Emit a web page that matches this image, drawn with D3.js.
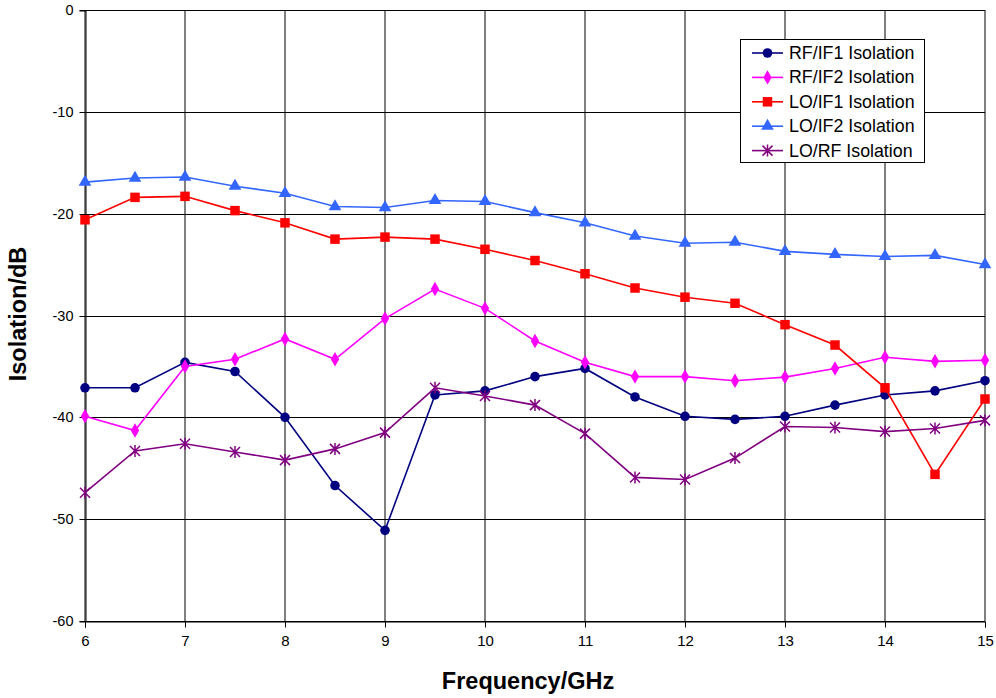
<!DOCTYPE html>
<html><head><meta charset="utf-8">
<script src="https://cdn.jsdelivr.net/npm/d3@7"></script>
<style>body{margin:0;background:#fff}svg{display:block}text{font-family:"Liberation Sans",Arial,sans-serif}</style>
</head><body><svg id="c" width="996" height="698"></svg>
<script>
const freqs = [6,6.5,7,7.5,8,8.5,9,9.5,10,10.5,11,11.5,12,12.5,13,13.5,14,14.5,15];
const rfIf1 = [-37.1,-37.1,-34.6,-35.5,-40.0,-46.7,-51.1,-37.8,-37.4,-36.0,-35.2,-38.0,-39.9,-40.2,-39.9,-38.8,-37.8,-37.4,-36.4];
const rfIf2 = [-39.9,-41.3,-35.0,-34.3,-32.3,-34.3,-30.3,-27.4,-29.3,-32.5,-34.6,-36.0,-36.0,-36.4,-36.05,-35.2,-34.1,-34.5,-34.4];
const loIf1 = [-20.6,-18.4,-18.3,-19.7,-20.9,-22.5,-22.3,-22.5,-23.5,-24.6,-25.9,-27.3,-28.2,-28.8,-30.9,-32.9,-37.1,-45.6,-38.2];
const loIf2 = [-16.9,-16.5,-16.4,-17.3,-18.0,-19.3,-19.4,-18.7,-18.8,-19.9,-20.9,-22.2,-22.9,-22.8,-23.7,-24.0,-24.2,-24.1,-25.0];
const loRf  = [-47.4,-43.3,-42.6,-43.4,-44.2,-43.1,-41.5,-37.1,-37.9,-38.8,-41.6,-45.9,-46.1,-44.0,-40.9,-41.0,-41.4,-41.1,-40.3];
const seriesNames = ["RF/IF1 Isolation","RF/IF2 Isolation","LO/IF1 Isolation","LO/IF2 Isolation","LO/RF Isolation"];
const xTicks = [6,7,8,9,10,11,12,13,14,15];
const yTicks = [0,-10,-20,-30,-40,-50,-60];

const series = [
  {name:seriesNames[0], values:rfIf1, color:"#000080", sym:d3.symbolCircle, size:72},
  {name:seriesNames[1], values:rfIf2, color:"#FF00FF", sym:d3.symbolDiamond, size:60},
  {name:seriesNames[2], values:loIf1, color:"#FF0000", sym:d3.symbolSquare, size:90},
  {name:seriesNames[3], values:loIf2, color:"#3366FF", sym:d3.symbolTriangle, size:70},
  {name:seriesNames[4], values:loRf,  color:"#800080", sym:"star", size:0}
];

const svg = d3.select("#c");
const x = d3.scaleLinear().domain([6,15]).range([85,985]);
const y = d3.scaleLinear().domain([0,-60]).range([10,621]);
const fmt = d => String(d);

// grid
const g = svg.append("g");
g.selectAll(".hg").data(yTicks).enter().append("line")
  .attr("x1",85).attr("x2",985)
  .attr("y1",d=>Math.round(y(d))+0.5).attr("y2",d=>Math.round(y(d))+0.5)
  .attr("stroke","#000").attr("stroke-width",1);
g.selectAll(".vg").data(xTicks).enter().append("line")
  .attr("x1",d=>x(d)).attr("x2",d=>x(d))
  .attr("y1",10).attr("y2",621)
  .attr("stroke","#000").attr("stroke-width",1);

// axes
const yAxis = d3.axisLeft(y).tickValues(yTicks).tickSize(6).tickFormat(fmt);
const ya = svg.append("g").attr("transform","translate(85.5,0.5)").call(yAxis);
ya.select(".domain").attr("stroke","#000");
ya.selectAll("text").attr("font-size",14.5).attr("x",-12).attr("fill","#000").attr("font-family","Liberation Sans, Arial, sans-serif");
ya.selectAll(".tick").attr("transform",d=>`translate(0,${Math.round(y(d))})`);

const xAxis = d3.axisBottom(x).tickValues(xTicks).tickSize(6).tickFormat(fmt);
const xa = svg.append("g").attr("transform","translate(0,621.5)").call(xAxis);
xa.select(".domain").attr("stroke","#000");
xa.selectAll("text").attr("font-size",15).attr("y",14).attr("fill","#000").attr("font-family","Liberation Sans, Arial, sans-serif");

// titles
svg.append("text").attr("x",528).attr("y",689).attr("text-anchor","middle")
  .attr("font-size",23.5).attr("font-weight","bold").text("Frequency/GHz");
svg.append("text").attr("transform","translate(26,314) rotate(-90)").attr("text-anchor","middle")
  .attr("font-size",23.5).attr("font-weight","bold").text("Isolation/dB");

function drawMarker(sel, s, cx, cy) {
  if (s.sym === "star") {
    const r = 5;
    const p = `M${cx-r},${cy-r}L${cx+r},${cy+r}M${cx-r},${cy+r}L${cx+r},${cy-r}M${cx},${cy-r-1}L${cx},${cy+r+1}`;
    sel.append("path").attr("d",p).attr("stroke",s.color).attr("stroke-width",1.5).attr("fill","none");
  } else {
    sel.append("path").attr("d",d3.symbol().type(s.sym).size(s.size)())
      .attr("transform",`translate(${cx},${cy})`).attr("fill",s.color);
  }
}

const line = d3.line().x((d,i)=>x(freqs[i])).y(d=>y(d));
series.forEach(s=>{
  const sg = svg.append("g");
  sg.append("path").attr("d",line(s.values)).attr("fill","none").attr("stroke",s.color).attr("stroke-width",1.6);
  s.values.forEach((v,i)=>drawMarker(sg,s,x(freqs[i]),y(v)));
});

// legend
const lg = svg.append("g");
lg.append("rect").attr("x",740.5).attr("y",39.5).attr("width",184).attr("height",123)
  .attr("fill","#fff").attr("stroke","#000").attr("stroke-width",1);
series.forEach((s,i)=>{
  const cy = 53 + i*24.4;
  lg.append("line").attr("x1",752).attr("x2",783).attr("y1",cy).attr("y2",cy).attr("stroke",s.color).attr("stroke-width",1.6);
  drawMarker(lg,s,767.5,cy);
  lg.append("text").attr("x",789).attr("y",cy+6).attr("font-size",17.8).attr("fill","#000").text(s.name);
});
</script></body></html>
